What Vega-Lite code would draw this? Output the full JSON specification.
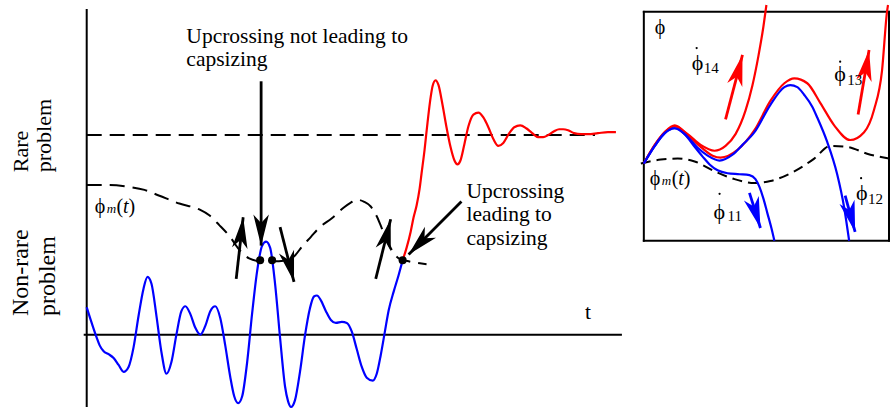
{
  "$schema": "https://vega.github.io/schema/vega-lite/v6.json",
  "width": 893,
  "height": 412,
  "autosize": {"type": "fit", "contains": "padding"},
  "padding": 0,
  "background": "white",
  "config": {"view": {"stroke": null}},
  "datasets": {
    "guides": [
      {"curve": "level", "t": 0, "p": 204},
      {"curve": "level", "t": 510, "p": 204},
      {"curve": "phim", "t": 0, "p": 153},
      {"curve": "phim", "t": 23, "p": 153},
      {"curve": "phim", "t": 43, "p": 151},
      {"curve": "phim", "t": 58, "p": 148},
      {"curve": "phim", "t": 73, "p": 142},
      {"curve": "phim", "t": 93, "p": 134},
      {"curve": "phim", "t": 113, "p": 128},
      {"curve": "phim", "t": 123, "p": 122},
      {"curve": "phim", "t": 133, "p": 112},
      {"curve": "phim", "t": 143, "p": 101},
      {"curve": "phim", "t": 153, "p": 87},
      {"curve": "phim", "t": 163, "p": 78},
      {"curve": "phim", "t": 175, "p": 75},
      {"curve": "phim", "t": 188, "p": 75},
      {"curve": "phim", "t": 201, "p": 76},
      {"curve": "phim", "t": 209, "p": 81},
      {"curve": "phim", "t": 216, "p": 90},
      {"curve": "phim", "t": 225, "p": 100},
      {"curve": "phim", "t": 233, "p": 109},
      {"curve": "phim", "t": 246, "p": 119},
      {"curve": "phim", "t": 258, "p": 130},
      {"curve": "phim", "t": 265, "p": 135},
      {"curve": "phim", "t": 271, "p": 138},
      {"curve": "phim", "t": 278, "p": 136},
      {"curve": "phim", "t": 285, "p": 131},
      {"curve": "phim", "t": 291, "p": 121},
      {"curve": "phim", "t": 296, "p": 109},
      {"curve": "phim", "t": 301, "p": 97},
      {"curve": "phim", "t": 307, "p": 85},
      {"curve": "phim", "t": 313, "p": 78},
      {"curve": "phim", "t": 323, "p": 75},
      {"curve": "phim", "t": 341, "p": 72}
    ],
    "insetGuide": [
      {"t": 556, "p": 175}, {"t": 576, "p": 179}, {"t": 593, "p": 180},
      {"t": 610, "p": 177}, {"t": 630, "p": 167}, {"t": 650, "p": 159},
      {"t": 670, "p": 155}, {"t": 686, "p": 157}, {"t": 710, "p": 167},
      {"t": 730, "p": 180}, {"t": 746, "p": 193}, {"t": 763, "p": 192},
      {"t": 783, "p": 185}, {"t": 805, "p": 180}
    ],
    "frame": [
      {"t": 0, "p": 332, "t2": 0, "p2": -73},
      {"t": -2, "p": 0, "t2": 536, "p2": 0},
      {"t": 559, "p": 330, "t2": 805, "p2": 330},
      {"t": 559, "p": 96, "t2": 805, "p2": 96},
      {"t": 559, "p": 330, "t2": 559, "p2": 96},
      {"t": 805, "p": 330, "t2": 805, "p2": 96}
    ],
    "curves": [
      {"curve": "signal", "tone": "safe", "t": 0, "p": 28},
      {"curve": "signal", "tone": "safe", "t": 5, "p": 12},
      {"curve": "signal", "tone": "safe", "t": 10, "p": -3},
      {"curve": "signal", "tone": "safe", "t": 13, "p": -11},
      {"curve": "signal", "tone": "safe", "t": 17, "p": -17},
      {"curve": "signal", "tone": "safe", "t": 22, "p": -20},
      {"curve": "signal", "tone": "safe", "t": 27, "p": -24},
      {"curve": "signal", "tone": "safe", "t": 32, "p": -31},
      {"curve": "signal", "tone": "safe", "t": 37, "p": -38},
      {"curve": "signal", "tone": "safe", "t": 42, "p": -33},
      {"curve": "signal", "tone": "safe", "t": 47, "p": -13},
      {"curve": "signal", "tone": "safe", "t": 52, "p": 19},
      {"curve": "signal", "tone": "safe", "t": 57, "p": 47},
      {"curve": "signal", "tone": "safe", "t": 61, "p": 59},
      {"curve": "signal", "tone": "safe", "t": 65, "p": 52},
      {"curve": "signal", "tone": "safe", "t": 70, "p": 19},
      {"curve": "signal", "tone": "safe", "t": 75, "p": -18},
      {"curve": "signal", "tone": "safe", "t": 80, "p": -40},
      {"curve": "signal", "tone": "safe", "t": 85, "p": -28},
      {"curve": "signal", "tone": "safe", "t": 90, "p": 0},
      {"curve": "signal", "tone": "safe", "t": 95, "p": 24},
      {"curve": "signal", "tone": "safe", "t": 99, "p": 29},
      {"curve": "signal", "tone": "safe", "t": 104, "p": 21},
      {"curve": "signal", "tone": "safe", "t": 109, "p": 7},
      {"curve": "signal", "tone": "safe", "t": 114, "p": 0},
      {"curve": "signal", "tone": "safe", "t": 119, "p": 9},
      {"curve": "signal", "tone": "safe", "t": 124, "p": 24},
      {"curve": "signal", "tone": "safe", "t": 129, "p": 29},
      {"curve": "signal", "tone": "safe", "t": 134, "p": 17},
      {"curve": "signal", "tone": "safe", "t": 139, "p": -11},
      {"curve": "signal", "tone": "safe", "t": 144, "p": -43},
      {"curve": "signal", "tone": "safe", "t": 148, "p": -63},
      {"curve": "signal", "tone": "safe", "t": 152, "p": -70},
      {"curve": "signal", "tone": "safe", "t": 156, "p": -63},
      {"curve": "signal", "tone": "safe", "t": 161, "p": -28},
      {"curve": "signal", "tone": "safe", "t": 166, "p": 22},
      {"curve": "signal", "tone": "safe", "t": 171, "p": 65},
      {"curve": "signal", "tone": "safe", "t": 176, "p": 91},
      {"curve": "signal", "tone": "safe", "t": 180, "p": 95},
      {"curve": "signal", "tone": "safe", "t": 184, "p": 89},
      {"curve": "signal", "tone": "safe", "t": 189, "p": 52},
      {"curve": "signal", "tone": "safe", "t": 194, "p": -3},
      {"curve": "signal", "tone": "safe", "t": 199, "p": -53},
      {"curve": "signal", "tone": "safe", "t": 202, "p": -68},
      {"curve": "signal", "tone": "safe", "t": 205, "p": -74},
      {"curve": "signal", "tone": "safe", "t": 209, "p": -67},
      {"curve": "signal", "tone": "safe", "t": 214, "p": -38},
      {"curve": "signal", "tone": "safe", "t": 219, "p": -1},
      {"curve": "signal", "tone": "safe", "t": 224, "p": 27},
      {"curve": "signal", "tone": "safe", "t": 228, "p": 39},
      {"curve": "signal", "tone": "safe", "t": 231, "p": 40},
      {"curve": "signal", "tone": "safe", "t": 235, "p": 35},
      {"curve": "signal", "tone": "safe", "t": 240, "p": 24},
      {"curve": "signal", "tone": "safe", "t": 245, "p": 15},
      {"curve": "signal", "tone": "safe", "t": 250, "p": 12},
      {"curve": "signal", "tone": "safe", "t": 256, "p": 13},
      {"curve": "signal", "tone": "safe", "t": 261, "p": 12},
      {"curve": "signal", "tone": "safe", "t": 266, "p": 3},
      {"curve": "signal", "tone": "safe", "t": 271, "p": -15},
      {"curve": "signal", "tone": "safe", "t": 276, "p": -33},
      {"curve": "signal", "tone": "safe", "t": 281, "p": -44},
      {"curve": "signal", "tone": "safe", "t": 287, "p": -47},
      {"curve": "signal", "tone": "safe", "t": 291, "p": -40},
      {"curve": "signal", "tone": "safe", "t": 295, "p": -21},
      {"curve": "signal", "tone": "safe", "t": 299, "p": 2},
      {"curve": "signal", "tone": "safe", "t": 303, "p": 25},
      {"curve": "signal", "tone": "safe", "t": 308, "p": 44},
      {"curve": "signal", "tone": "safe", "t": 313, "p": 61},
      {"curve": "signal", "tone": "safe", "t": 317, "p": 76},

      {"curve": "capsize", "tone": "capsize", "t": 317, "p": 76},
      {"curve": "capsize", "tone": "capsize", "t": 321, "p": 89},
      {"curve": "capsize", "tone": "capsize", "t": 325, "p": 105},
      {"curve": "capsize", "tone": "capsize", "t": 328, "p": 120},
      {"curve": "capsize", "tone": "capsize", "t": 331, "p": 132},
      {"curve": "capsize", "tone": "capsize", "t": 334, "p": 149},
      {"curve": "capsize", "tone": "capsize", "t": 336, "p": 165},
      {"curve": "capsize", "tone": "capsize", "t": 339, "p": 189},
      {"curve": "capsize", "tone": "capsize", "t": 342, "p": 217},
      {"curve": "capsize", "tone": "capsize", "t": 345, "p": 242},
      {"curve": "capsize", "tone": "capsize", "t": 347, "p": 254},
      {"curve": "capsize", "tone": "capsize", "t": 350, "p": 260},
      {"curve": "capsize", "tone": "capsize", "t": 353, "p": 255},
      {"curve": "capsize", "tone": "capsize", "t": 357, "p": 235},
      {"curve": "capsize", "tone": "capsize", "t": 361, "p": 212},
      {"curve": "capsize", "tone": "capsize", "t": 365, "p": 192},
      {"curve": "capsize", "tone": "capsize", "t": 369, "p": 178},
      {"curve": "capsize", "tone": "capsize", "t": 372, "p": 174},
      {"curve": "capsize", "tone": "capsize", "t": 375, "p": 178},
      {"curve": "capsize", "tone": "capsize", "t": 379, "p": 195},
      {"curve": "capsize", "tone": "capsize", "t": 383, "p": 213},
      {"curve": "capsize", "tone": "capsize", "t": 388, "p": 225},
      {"curve": "capsize", "tone": "capsize", "t": 393, "p": 227},
      {"curve": "capsize", "tone": "capsize", "t": 398, "p": 222},
      {"curve": "capsize", "tone": "capsize", "t": 403, "p": 212},
      {"curve": "capsize", "tone": "capsize", "t": 408, "p": 200},
      {"curve": "capsize", "tone": "capsize", "t": 413, "p": 193},
      {"curve": "capsize", "tone": "capsize", "t": 418, "p": 196},
      {"curve": "capsize", "tone": "capsize", "t": 424, "p": 206},
      {"curve": "capsize", "tone": "capsize", "t": 429, "p": 212},
      {"curve": "capsize", "tone": "capsize", "t": 435, "p": 214},
      {"curve": "capsize", "tone": "capsize", "t": 441, "p": 211},
      {"curve": "capsize", "tone": "capsize", "t": 447, "p": 206},
      {"curve": "capsize", "tone": "capsize", "t": 453, "p": 202},
      {"curve": "capsize", "tone": "capsize", "t": 458, "p": 202},
      {"curve": "capsize", "tone": "capsize", "t": 463, "p": 204},
      {"curve": "capsize", "tone": "capsize", "t": 469, "p": 208},
      {"curve": "capsize", "tone": "capsize", "t": 474, "p": 210},
      {"curve": "capsize", "tone": "capsize", "t": 478, "p": 210},
      {"curve": "capsize", "tone": "capsize", "t": 483, "p": 209},
      {"curve": "capsize", "tone": "capsize", "t": 489, "p": 206},
      {"curve": "capsize", "tone": "capsize", "t": 496, "p": 205},
      {"curve": "capsize", "tone": "capsize", "t": 503, "p": 205},
      {"curve": "capsize", "tone": "capsize", "t": 513, "p": 206},
      {"curve": "capsize", "tone": "capsize", "t": 523, "p": 207},
      {"curve": "capsize", "tone": "capsize", "t": 531, "p": 207},

      {"curve": "phi14", "tone": "capsize", "t": 559, "p": 175},
      {"curve": "phi14", "tone": "capsize", "t": 570, "p": 194},
      {"curve": "phi14", "tone": "capsize", "t": 580, "p": 207},
      {"curve": "phi14", "tone": "capsize", "t": 590, "p": 213},
      {"curve": "phi14", "tone": "capsize", "t": 603, "p": 205},
      {"curve": "phi14", "tone": "capsize", "t": 616, "p": 194},
      {"curve": "phi14", "tone": "capsize", "t": 630, "p": 188},
      {"curve": "phi14", "tone": "capsize", "t": 641, "p": 193},
      {"curve": "phi14", "tone": "capsize", "t": 651, "p": 205},
      {"curve": "phi14", "tone": "capsize", "t": 661, "p": 229},
      {"curve": "phi14", "tone": "capsize", "t": 668, "p": 255},
      {"curve": "phi14", "tone": "capsize", "t": 674, "p": 285},
      {"curve": "phi14", "tone": "capsize", "t": 679, "p": 315},
      {"curve": "phi14", "tone": "capsize", "t": 682, "p": 337},

      {"curve": "phi13", "tone": "capsize", "t": 559, "p": 175},
      {"curve": "phi13", "tone": "capsize", "t": 570, "p": 194},
      {"curve": "phi13", "tone": "capsize", "t": 580, "p": 207},
      {"curve": "phi13", "tone": "capsize", "t": 590, "p": 214},
      {"curve": "phi13", "tone": "capsize", "t": 603, "p": 204},
      {"curve": "phi13", "tone": "capsize", "t": 616, "p": 192},
      {"curve": "phi13", "tone": "capsize", "t": 628, "p": 183},
      {"curve": "phi13", "tone": "capsize", "t": 636, "p": 181},
      {"curve": "phi13", "tone": "capsize", "t": 653, "p": 189},
      {"curve": "phi13", "tone": "capsize", "t": 670, "p": 209},
      {"curve": "phi13", "tone": "capsize", "t": 686, "p": 239},
      {"curve": "phi13", "tone": "capsize", "t": 700, "p": 257},
      {"curve": "phi13", "tone": "capsize", "t": 710, "p": 262},
      {"curve": "phi13", "tone": "capsize", "t": 723, "p": 257},
      {"curve": "phi13", "tone": "capsize", "t": 736, "p": 237},
      {"curve": "phi13", "tone": "capsize", "t": 750, "p": 214},
      {"curve": "phi13", "tone": "capsize", "t": 766, "p": 199},
      {"curve": "phi13", "tone": "capsize", "t": 780, "p": 207},
      {"curve": "phi13", "tone": "capsize", "t": 790, "p": 230},
      {"curve": "phi13", "tone": "capsize", "t": 798, "p": 270},
      {"curve": "phi13", "tone": "capsize", "t": 803, "p": 330},
      {"curve": "phi13", "tone": "capsize", "t": 804, "p": 337},

      {"curve": "phi12", "tone": "safe", "t": 559, "p": 175},
      {"curve": "phi12", "tone": "safe", "t": 570, "p": 193},
      {"curve": "phi12", "tone": "safe", "t": 580, "p": 206},
      {"curve": "phi12", "tone": "safe", "t": 590, "p": 211},
      {"curve": "phi12", "tone": "safe", "t": 603, "p": 202},
      {"curve": "phi12", "tone": "safe", "t": 613, "p": 191},
      {"curve": "phi12", "tone": "safe", "t": 623, "p": 183},
      {"curve": "phi12", "tone": "safe", "t": 635, "p": 178},
      {"curve": "phi12", "tone": "safe", "t": 648, "p": 184},
      {"curve": "phi12", "tone": "safe", "t": 658, "p": 194},
      {"curve": "phi12", "tone": "safe", "t": 670, "p": 207},
      {"curve": "phi12", "tone": "safe", "t": 686, "p": 235},
      {"curve": "phi12", "tone": "safe", "t": 700, "p": 253},
      {"curve": "phi12", "tone": "safe", "t": 706, "p": 255},
      {"curve": "phi12", "tone": "safe", "t": 713, "p": 253},
      {"curve": "phi12", "tone": "safe", "t": 720, "p": 245},
      {"curve": "phi12", "tone": "safe", "t": 728, "p": 233},
      {"curve": "phi12", "tone": "safe", "t": 733, "p": 222},
      {"curve": "phi12", "tone": "safe", "t": 743, "p": 197},
      {"curve": "phi12", "tone": "safe", "t": 753, "p": 164},
      {"curve": "phi12", "tone": "safe", "t": 760, "p": 130},
      {"curve": "phi12", "tone": "safe", "t": 765, "p": 96},

      {"curve": "phi11", "tone": "safe", "t": 559, "p": 175},
      {"curve": "phi11", "tone": "safe", "t": 570, "p": 193},
      {"curve": "phi11", "tone": "safe", "t": 580, "p": 206},
      {"curve": "phi11", "tone": "safe", "t": 590, "p": 211},
      {"curve": "phi11", "tone": "safe", "t": 600, "p": 205},
      {"curve": "phi11", "tone": "safe", "t": 610, "p": 192},
      {"curve": "phi11", "tone": "safe", "t": 618, "p": 182},
      {"curve": "phi11", "tone": "safe", "t": 625, "p": 174},
      {"curve": "phi11", "tone": "safe", "t": 633, "p": 168},
      {"curve": "phi11", "tone": "safe", "t": 643, "p": 165},
      {"curve": "phi11", "tone": "safe", "t": 655, "p": 164},
      {"curve": "phi11", "tone": "safe", "t": 665, "p": 163},
      {"curve": "phi11", "tone": "safe", "t": 671, "p": 159},
      {"curve": "phi11", "tone": "safe", "t": 675, "p": 151},
      {"curve": "phi11", "tone": "safe", "t": 679, "p": 139},
      {"curve": "phi11", "tone": "safe", "t": 683, "p": 124},
      {"curve": "phi11", "tone": "safe", "t": 687, "p": 109},
      {"curve": "phi11", "tone": "safe", "t": 690, "p": 96}
    ],
    "arrows": [
      {"tone": "marker", "t": 175, "p": 259, "t2": 175, "p2": 91, "heading": 180},
      {"tone": "marker", "t": 150, "p": 57, "t2": 157, "p2": 120, "heading": 6.3},
      {"tone": "marker", "t": 194, "p": 110, "t2": 208, "p2": 54, "heading": 166},
      {"tone": "marker", "t": 290, "p": 57, "t2": 305, "p2": 118, "heading": 13.8},
      {"tone": "marker", "t": 376, "p": 136, "t2": 323, "p2": 82, "heading": -135.5},
      {"tone": "capsize", "t": 641, "p": 220, "t2": 658, "p2": 286, "heading": 14.4},
      {"tone": "capsize", "t": 774, "p": 225, "t2": 785, "p2": 291, "heading": 9.5},
      {"tone": "safe", "t": 665, "p": 145, "t2": 676, "p2": 109, "heading": 163},
      {"tone": "safe", "t": 761, "p": 142, "t2": 771, "p2": 105, "heading": 164.9}
    ],
    "crossings": [
      {"t": 174, "p": 76},
      {"t": 186, "p": 76},
      {"t": 317, "p": 76}
    ],
    "rates": [
      {"t": 612, "p": 293},
      {"t": 756, "p": 279},
      {"t": 777, "p": 160},
      {"t": 635, "p": 144}
    ],
    "notes": [
      {"role": "note", "text": "Upcrossing not leading to", "t": 100, "p": 298},
      {"role": "note", "text": "capsizing", "t": 100, "p": 275},
      {"role": "note", "text": "Upcrossing", "t": 381, "p": 140},
      {"role": "note", "text": "leading to", "t": 381, "p": 116},
      {"role": "note", "text": "capsizing", "t": 381, "p": 92},
      {"role": "note", "text": "t", "t": 500, "p": 16},
      {"role": "rare", "text": "Rare", "t": -59, "p": 166},
      {"role": "rare", "text": "problem", "t": -36, "p": 166},
      {"role": "nonrare", "text": "Non-rare", "t": -59, "p": 19},
      {"role": "nonrare", "text": "problem", "t": -32, "p": 19},
      {"role": "upright", "text": "ϕ", "t": 8, "p": 124},
      {"role": "italicSmall", "text": "m", "t": 20, "p": 124},
      {"role": "upright", "text": "(", "t": 30, "p": 124},
      {"role": "italic", "text": "t", "t": 36.5, "p": 124},
      {"role": "upright", "text": ")", "t": 42, "p": 124},
      {"role": "upright", "text": "ϕ", "t": 565, "p": 153},
      {"role": "italicSmall", "text": "m", "t": 577, "p": 153},
      {"role": "upright", "text": "(", "t": 587, "p": 153},
      {"role": "italic", "text": "t", "t": 593.5, "p": 153},
      {"role": "upright", "text": ")", "t": 599, "p": 153},
      {"role": "upright", "text": "ϕ", "t": 570, "p": 307},
      {"role": "rate", "text": "ϕ", "t": 607, "p": 271},
      {"role": "sub", "text": "14", "t": 619, "p": 267},
      {"role": "rate", "text": "ϕ", "t": 750, "p": 259},
      {"role": "sub", "text": "13", "t": 763, "p": 255},
      {"role": "rate", "text": "ϕ", "t": 772, "p": 138},
      {"role": "sub", "text": "12", "t": 784, "p": 134},
      {"role": "rate", "text": "ϕ", "t": 629, "p": 118},
      {"role": "sub", "text": "11", "t": 643, "p": 116}
    ]
  },
  "encoding": {
    "x": {"field": "t", "type": "quantitative", "scale": {"domain": [-87, 806], "nice": false, "zero": false}, "axis": null},
    "y": {"field": "p", "type": "quantitative", "scale": {"domain": [-75, 337], "nice": false, "zero": false}, "axis": null}
  },
  "layer": [
    {
      "data": {"name": "guides"},
      "mark": {"type": "line", "interpolate": "monotone", "color": "black", "strokeWidth": 2, "strokeDash": [15, 8]},
      "encoding": {"detail": {"field": "curve"}}
    },
    {
      "data": {"name": "insetGuide"},
      "mark": {"type": "line", "interpolate": "monotone", "color": "black", "strokeWidth": 2, "strokeDash": [10, 6]},
      "encoding": {}
    },
    {
      "data": {"name": "frame"},
      "mark": {"type": "rule", "color": "black", "strokeWidth": 2, "strokeCap": "square"},
      "encoding": {"x2": {"field": "t2"}, "y2": {"field": "p2"}}
    },
    {
      "data": {"name": "curves"},
      "transform": [{"filter": "datum.tone === 'capsize'"}],
      "mark": {"type": "line", "interpolate": "monotone", "color": "#ff0000", "strokeWidth": 2.2},
      "encoding": {"detail": {"field": "curve"}}
    },
    {
      "data": {"name": "curves"},
      "transform": [{"filter": "datum.tone === 'safe'"}],
      "mark": {"type": "line", "interpolate": "monotone", "color": "#0000ff", "strokeWidth": 2.2},
      "encoding": {"detail": {"field": "curve"}}
    },
    {
      "data": {"name": "arrows"},
      "mark": {"type": "rule", "strokeWidth": 2.8},
      "encoding": {
        "x2": {"field": "t2"},
        "y2": {"field": "p2"},
        "color": {"field": "tone", "type": "nominal", "scale": {"domain": ["marker", "capsize", "safe"], "range": ["#000000", "#ff0000", "#0000ff"]}, "legend": null}
      }
    },
    {
      "data": {"name": "arrows"},
      "mark": {"type": "point", "shape": "M0,0L0.55,2.2L0,1.6L-0.55,2.2Z", "filled": true, "opacity": 1, "size": 800, "strokeWidth": 0},
      "encoding": {
        "x": {"field": "t2", "type": "quantitative"},
        "y": {"field": "p2", "type": "quantitative"},
        "angle": {"field": "heading", "type": "quantitative", "scale": null},
        "color": {"field": "tone", "type": "nominal", "scale": {"domain": ["marker", "capsize", "safe"], "range": ["#000000", "#ff0000", "#0000ff"]}, "legend": null}
      }
    },
    {
      "data": {"name": "crossings"},
      "mark": {"type": "point", "shape": "circle", "filled": true, "opacity": 1, "size": 65, "color": "black"},
      "encoding": {}
    },
    {
      "data": {"name": "rates"},
      "mark": {"type": "point", "shape": "circle", "filled": true, "opacity": 1, "size": 5, "color": "black"},
      "encoding": {}
    },
    {
      "data": {"name": "notes"},
      "transform": [{"filter": "datum.role === 'note'"}],
      "mark": {"type": "text", "font": "Liberation Serif", "fontSize": 21.5, "align": "left", "baseline": "alphabetic", "color": "black"},
      "encoding": {"text": {"field": "text"}}
    },
    {
      "data": {"name": "notes"},
      "transform": [{"filter": "datum.role === 'rare'"}],
      "mark": {"type": "text", "font": "Liberation Serif", "fontSize": 22, "align": "left", "baseline": "alphabetic", "angle": 270, "color": "black"},
      "encoding": {"text": {"field": "text"}}
    },
    {
      "data": {"name": "notes"},
      "transform": [{"filter": "datum.role === 'nonrare'"}],
      "mark": {"type": "text", "font": "Liberation Serif", "fontSize": 24, "align": "left", "baseline": "alphabetic", "angle": 270, "color": "black"},
      "encoding": {"text": {"field": "text"}}
    },
    {
      "data": {"name": "notes"},
      "transform": [{"filter": "datum.role === 'upright'"}],
      "mark": {"type": "text", "font": "Liberation Serif", "fontSize": 20, "align": "left", "baseline": "alphabetic", "color": "black"},
      "encoding": {"text": {"field": "text"}}
    },
    {
      "data": {"name": "notes"},
      "transform": [{"filter": "datum.role === 'rate'"}],
      "mark": {"type": "text", "font": "Liberation Serif", "fontSize": 22, "align": "left", "baseline": "alphabetic", "color": "black"},
      "encoding": {"text": {"field": "text"}}
    },
    {
      "data": {"name": "notes"},
      "transform": [{"filter": "datum.role === 'italic'"}],
      "mark": {"type": "text", "font": "Liberation Serif", "fontSize": 20, "fontStyle": "italic", "align": "left", "baseline": "alphabetic", "color": "black"},
      "encoding": {"text": {"field": "text"}}
    },
    {
      "data": {"name": "notes"},
      "transform": [{"filter": "datum.role === 'italicSmall'"}],
      "mark": {"type": "text", "font": "Liberation Serif", "fontSize": 13, "fontStyle": "italic", "align": "left", "baseline": "alphabetic", "color": "black"},
      "encoding": {"text": {"field": "text"}}
    },
    {
      "data": {"name": "notes"},
      "transform": [{"filter": "datum.role === 'sub'"}],
      "mark": {"type": "text", "font": "Liberation Serif", "fontSize": 15, "align": "left", "baseline": "alphabetic", "color": "black"},
      "encoding": {"text": {"field": "text"}}
    }
  ]
}
